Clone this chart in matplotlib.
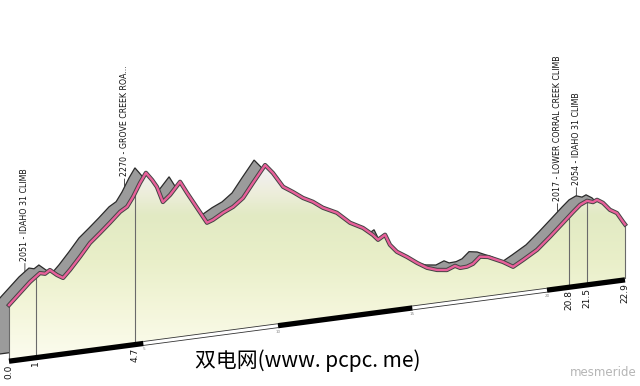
import numpy as np
import matplotlib
matplotlib.use("Agg")
import matplotlib.pyplot as plt
import matplotlib.transforms as mtransforms
import matplotlib.patheffects as pe
from matplotlib.colors import to_rgb
from matplotlib.patches import Polygon

# distance (km) and elevation (m)
km = [0.0, 0.41, 0.78, 1.15, 1.34, 1.52, 1.78, 2.01, 2.27, 2.64, 3.01, 3.38, 3.75, 4.13,
      4.39, 4.61, 4.87, 5.09, 5.32, 5.50, 5.72, 5.99, 6.36, 6.62, 6.99, 7.36, 7.58, 7.96,
      8.33, 8.70, 9.07, 9.52, 9.81, 10.19, 10.56, 10.93, 11.30, 11.67, 12.19, 12.68, 13.16,
      13.53, 13.72, 13.98, 14.16, 14.42, 14.80, 15.17, 15.54, 15.91, 16.28, 16.58, 16.77,
      17.03, 17.25, 17.51, 17.81, 18.14, 18.36, 18.74, 19.11, 19.63, 20.11, 20.59, 20.97,
      21.23, 21.49, 21.71, 21.86, 22.08, 22.34, 22.60, 22.83, 22.9]
elev = [1966, 1997, 2025, 2047, 2043, 2052, 2035, 2024, 2045, 2079, 2115, 2140, 2166, 2194,
        2206, 2232, 2270, 2297, 2274, 2252, 2206, 2224, 2258, 2223, 2176, 2129, 2135, 2152,
        2165, 2187, 2227, 2274, 2248, 2204, 2185, 2164, 2149, 2128, 2108, 2074, 2054,
        2030, 2014, 2026, 1995, 1972, 1953, 1932, 1914, 1904, 1900, 1909, 1901,
        1902, 1908, 1926, 1922, 1910, 1902, 1884, 1900, 1924, 1957, 1992, 2020,
        2038, 2047, 2041, 2046, 2035, 2012, 2000, 1972, 1964]

base_elev = 1809

marker_km = [0.0, 1, 4.7, 20.8, 21.5, 22.9]
marker_labels = ["0.0", "1", "4.7", "20.8", "21.5", "22.9"]

climb_km = [1, 4.7, 20.8, 21.5]
climb_labels = ["2051 - IDAHO 31 CLIMB", "2270 - GROVE CREEK ROA...",
                "2017 - LOWER CORRAL CREEK CLIMB", "2054 - IDAHO 31 CLIMB"]

bar_edges = [0, 5, 10, 15, 20, 22.9]
bar_colors = ["black", "white", "black", "white", "black"]
tick_km = [5, 10, 15, 20]

# fill gradient (pixel row from top -> colour)
grad_rows = [160, 190, 215, 260, 310, 360]
grad_hex = ["#f4f0fa", "#eeeede", "#e2eac3", "#e9efc9", "#f4f6db", "#fcfcef"]

fig = plt.figure(figsize=(6.4, 3.86), dpi=100)
ax = fig.add_axes([0, 0, 1, 1])
ax.set_autoscale_on(False)
ax.set_xlim(-9 / 26.9, 631 / 26.9)
ax.set_ylim(1731.3, 1731.3 + 386 * 2.9)
ax.axis("off")

# slanted base: skew the data, and an offset copy for the "back" edge
skew = mtransforms.Affine2D().skew(0, np.arctan(10.3))
front = skew + ax.transData
back = mtransforms.offset_copy(front, fig=fig, x=-11, y=5, units="dots")

verts = list(zip(km, elev)) + [(km[-1], base_elev), (km[0], base_elev)]

# extruded top (grey)
ax.add_patch(Polygon(verts, closed=True, transform=back, facecolor="#9b9b9b",
                     edgecolor="#2b2b2b", lw=0.9, zorder=1))

# front face with gradient
face = Polygon(verts, closed=True, transform=front, facecolor="white",
               edgecolor="none", zorder=2)
ax.add_patch(face)
rows = np.arange(386)
rgb = np.array([to_rgb(c) for c in grad_hex])
img = np.stack([np.interp(rows, grad_rows, rgb[:, i]) for i in range(3)], axis=-1)
img = img[:, None, :]
im = ax.imshow(img, extent=[0, 1, 0, 1], transform=ax.transAxes, aspect="auto",
               origin="upper", interpolation="bilinear", zorder=3)
im.set_clip_path(face)

# marker lines
for m in marker_km:
    top = np.interp(m, km, elev)
    ax.plot([m, m], [base_elev, top], transform=front, color="#6a6a6a", lw=0.8, zorder=4)

# profile line
ax.plot(km, elev, transform=front, color="#e8609a", lw=1.7, zorder=6,
        solid_joinstyle="round",
        path_effects=[pe.Stroke(linewidth=3.1, foreground="#444444"), pe.Normal()])

# distance bar
bar_tr = mtransforms.offset_copy(front, fig=fig, x=0, y=-2, units="dots")
for a, b, c in zip(bar_edges[:-1], bar_edges[1:], bar_colors):
    if c == "white":
        ax.plot([a, b], [base_elev, base_elev], transform=bar_tr, color="white", lw=2.2,
                solid_capstyle="butt", zorder=5,
                path_effects=[pe.Stroke(linewidth=3.4, foreground="#333333"), pe.Normal()])
    else:
        ax.plot([a, b], [base_elev, base_elev], transform=bar_tr, color="black", lw=3.8,
                solid_capstyle="butt", zorder=5)

for t in tick_km:
    ax.annotate(str(t), xy=(t, base_elev), xycoords=front, xytext=(0, -6),
                textcoords="offset pixels", fontsize=3, color="#888888",
                ha="center", va="top")

narrow = ["Liberation Sans Narrow", "DejaVu Sans"]

for m, lbl in zip(marker_km, marker_labels):
    ax.annotate(lbl, xy=(m, base_elev), xycoords=front, xytext=(0, -5),
                textcoords="offset pixels", rotation=90, ha="center", va="top",
                fontsize=6.5, family=narrow, color="#111111")

for c, lbl in zip(climb_km, climb_labels):
    top = np.interp(c, km, elev)
    ax.annotate(lbl, xy=(c, top), xycoords=back, xytext=(0, 11),
                textcoords="offset pixels", rotation=90, ha="center", va="bottom",
                fontsize=5.7, family=narrow, color="#111111",
                arrowprops=dict(arrowstyle="-", color="#333333", lw=0.6,
                                shrinkA=0, shrinkB=0))

fig.text(195 / 640, 1 - 361 / 386, "双电网(www. pcpc. me)",
         family=["Noto Sans CJK SC", "DejaVu Sans"], fontsize=15,
         ha="left", va="center", color="black")
fig.text(0.995, 1 - 373 / 386, "mesmeride", fontsize=8.5, color="#b5b5b5",
         ha="right", va="center")

fig.savefig("out.png", dpi=100)
